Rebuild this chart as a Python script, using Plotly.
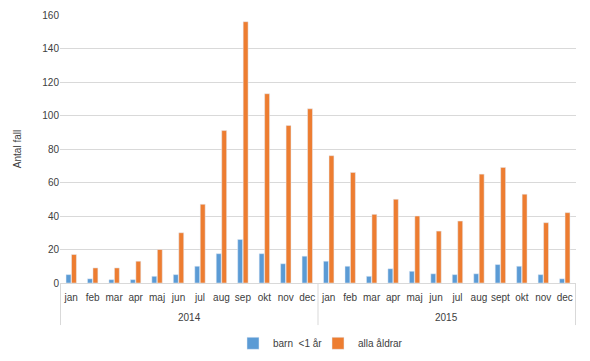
import plotly.graph_objects as go

years = ["2014", "2015"]
months = ["jan", "feb", "mar", "apr", "maj", "jun", "jul", "aug", "sep", "okt", "nov", "dec",
          "jan", "feb", "mar", "apr", "maj", "jun", "jul", "aug", "sept", "okt", "nov", "dec"]
barn = [5, 2.5, 2, 2, 4, 5, 10, 17.5, 26, 17.5, 11.5, 16,
        13, 10, 4, 8.5, 7, 5.5, 5, 5.5, 11, 10, 5, 2.5]
alla = [17, 9, 9, 13, 20, 30, 47, 91, 156, 113, 94, 104,
        76, 66, 41, 50, 40, 31, 37, 65, 69, 53, 36, 42]

# unique category keys (year + month), labelled with the month only
keys = [f"{years[i // 12]}-{m}" for i, m in enumerate(months)]

fig = go.Figure()
fig.add_trace(go.Bar(x=keys, y=barn, name="barn  <1 år", marker_color="#5B9BD5"))
fig.add_trace(go.Bar(x=keys, y=alla, name="alla åldrar", marker_color="#ED7D31"))

txt = "#404040"
fig.update_layout(
    width=582, height=353,
    margin=dict(l=52, r=14, t=7, b=78, autoexpand=False),
    paper_bgcolor="white", plot_bgcolor="white",
    font=dict(family="Liberation Sans, Arial, sans-serif", size=10, color=txt),
    barmode="group", bargap=0.49, bargroupgap=0.1,
    legend=dict(orientation="h", x=0.5, xanchor="center", y=-0.225, yanchor="middle",
                font=dict(size=10, color=txt), entrywidth=40, traceorder="normal"),
    showlegend=True,
)
fig.update_xaxes(
    type="category", tickmode="array", tickvals=keys, ticktext=months, tickangle=0,
    showline=True, linecolor="#D9D9D9", linewidth=1, ticks="", ticklabelstandoff=5,
    tickfont=dict(size=10, color=txt), automargin=False,
)
fig.update_yaxes(
    range=[0, 160], dtick=20, showgrid=True, gridcolor="#D9D9D9", gridwidth=1,
    zeroline=False, tickfont=dict(size=10, color=txt), automargin=False,
    title=dict(text="Antal fall", font=dict(size=10, color=txt), standoff=18),
)

# year group labels and group dividers below the category axis
n_per_year = 12
for gi, yr in enumerate(years):
    mid = gi * n_per_year + (n_per_year - 1) / 2
    fig.add_annotation(x=mid, y=-0.13, xref="x", yref="paper", text=yr, showarrow=False,
                       yanchor="middle", font=dict(size=10, color=txt))
for b in range(len(years) + 1):
    xb = b * n_per_year - 0.5
    fig.add_shape(type="line", xref="x", yref="paper", x0=xb, x1=xb, y0=0, y1=-0.157,
                  line=dict(color="#D9D9D9", width=1))

fig.write_html("out.html")
